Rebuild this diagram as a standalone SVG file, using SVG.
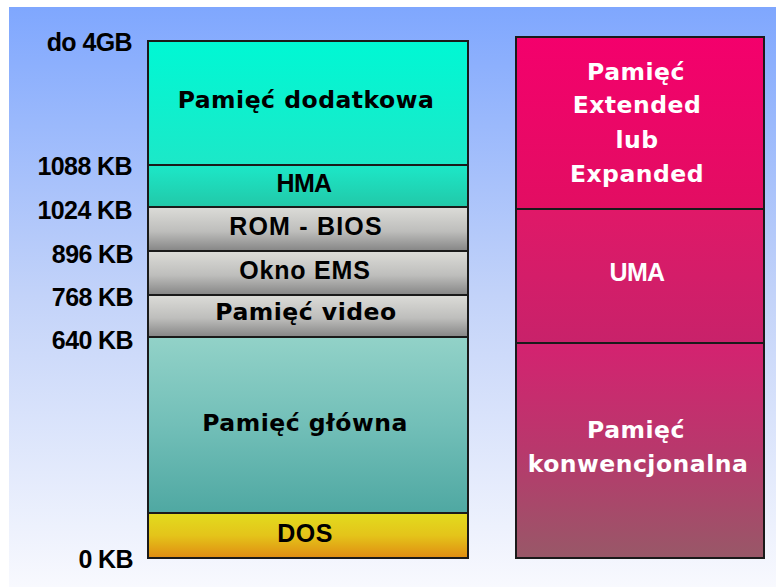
<svg xmlns="http://www.w3.org/2000/svg" width="776" height="587" viewBox="0 0 776 587">
<defs>
<linearGradient id="bg" x1="0" y1="0" x2="0" y2="1">
<stop offset="0" stop-color="#7FA7FE"/>
<stop offset="0.5" stop-color="#C3D3F9"/>
<stop offset="1" stop-color="#F8F9FE"/>
</linearGradient>
<linearGradient id="gCyan" x1="0" y1="0" x2="0" y2="1">
<stop offset="0" stop-color="#00F8D4"/>
<stop offset="1" stop-color="#1CE8C8"/>
</linearGradient>
<linearGradient id="gHma" x1="0" y1="0" x2="0" y2="1">
<stop offset="0" stop-color="#1CE8C8"/>
<stop offset="1" stop-color="#22C8A8"/>
</linearGradient>
<linearGradient id="gGray" x1="0" y1="0" x2="0" y2="1">
<stop offset="0" stop-color="#DCDCD8"/>
<stop offset="0.55" stop-color="#BEBEBC"/>
<stop offset="1" stop-color="#858585"/>
</linearGradient>
<linearGradient id="gMain" x1="0" y1="0" x2="0" y2="1">
<stop offset="0" stop-color="#92D2C8"/>
<stop offset="0.5" stop-color="#72BFB8"/>
<stop offset="1" stop-color="#4FA8A2"/>
</linearGradient>
<linearGradient id="gDos" x1="0" y1="0" x2="0" y2="1">
<stop offset="0" stop-color="#E2DC1E"/>
<stop offset="0.5" stop-color="#E4C41A"/>
<stop offset="1" stop-color="#E08C12"/>
</linearGradient>
<linearGradient id="gExt" x1="0" y1="0" x2="0" y2="1">
<stop offset="0" stop-color="#F4006C"/>
<stop offset="1" stop-color="#E20E62"/>
</linearGradient>
<linearGradient id="gUma" x1="0" y1="0" x2="0" y2="1">
<stop offset="0" stop-color="#E01868"/>
<stop offset="1" stop-color="#C8226A"/>
</linearGradient>
<linearGradient id="gConv" x1="0" y1="0" x2="0" y2="1">
<stop offset="0" stop-color="#D42270"/>
<stop offset="0.5" stop-color="#B8386C"/>
<stop offset="1" stop-color="#985868"/>
</linearGradient>
</defs>
<style>
.box{stroke:#1a1a1a;stroke-width:2}
.lbl{font-family:"Liberation Sans",Arial,sans-serif;font-weight:bold;font-size:25px;letter-spacing:-0.6px;fill:#000;text-anchor:end}
.tight{font-family:"Liberation Sans",Arial,sans-serif;font-weight:bold;font-size:25px;letter-spacing:-0.6px;text-anchor:middle}
.wide{font-family:"DejaVu Sans",Verdana,sans-serif;font-weight:bold;font-size:23.5px;letter-spacing:0.5px;text-anchor:middle}
.blk{fill:#000}
.wht{fill:#fff}
</style>
<rect x="0" y="0" width="776" height="587" fill="#fff"/>
<rect x="9" y="7" width="767" height="580" fill="url(#bg)"/>

<g id="labels">
<text class="lbl" x="132" y="51">do 4GB</text>
<text class="lbl" x="132" y="175">1088 KB</text>
<text class="lbl" x="132" y="219">1024 KB</text>
<text class="lbl" x="133" y="263">896 KB</text>
<text class="lbl" x="133" y="306">768 KB</text>
<text class="lbl" x="133" y="349">640 KB</text>
<text class="lbl" x="133" y="568">0 KB</text>
</g>

<g id="dodatkowa">
<rect class="box" x="148" y="41" width="320" height="124" fill="url(#gCyan)"/>
<text class="wide blk" x="306" y="108">Pamięć dodatkowa</text>
</g>
<g id="hma">
<rect class="box" x="148" y="165" width="320" height="42" fill="url(#gHma)"/>
<text class="tight blk" x="304" y="192">HMA</text>
</g>
<g id="rombios">
<rect class="box" x="148" y="207" width="320" height="44" fill="url(#gGray)"/>
<text class="tight blk" x="306" y="235" style="letter-spacing:1.2px">ROM - BIOS</text>
</g>
<g id="ems">
<rect class="box" x="148" y="251" width="320" height="44" fill="url(#gGray)"/>
<text class="tight blk" x="305" y="279" style="letter-spacing:0.8px">Okno EMS</text>
</g>
<g id="video">
<rect class="box" x="148" y="295" width="320" height="42" fill="url(#gGray)"/>
<text class="wide blk" x="306" y="320">Pamięć video</text>
</g>
<g id="glowna">
<rect class="box" x="148" y="337" width="320" height="176" fill="url(#gMain)"/>
<text class="wide blk" x="305" y="431">Pamięć główna</text>
</g>
<g id="dos">
<rect class="box" x="148" y="513" width="320" height="45" fill="url(#gDos)"/>
<text class="tight blk" x="305" y="542" style="letter-spacing:0.5px">DOS</text>
</g>

<g id="extended">
<rect class="box" x="516" y="37" width="248" height="172" fill="url(#gExt)"/>
<text class="wide wht" x="636" y="80">Pamięć</text>
<text class="wide wht" x="637" y="113">Extended</text>
<text class="wide wht" x="637" y="148">lub</text>
<text class="wide wht" x="637" y="182">Expanded</text>
</g>
<g id="uma">
<rect class="box" x="516" y="209" width="248" height="134" fill="url(#gUma)"/>
<text class="tight wht" x="637" y="281">UMA</text>
</g>
<g id="konwencjonalna">
<rect class="box" x="516" y="343" width="248" height="215" fill="url(#gConv)"/>
<text class="wide wht" x="636" y="438">Pamięć</text>
<text class="wide wht" x="638" y="472">konwencjonalna</text>
</g>
<g id="connectors"/>
</svg>
